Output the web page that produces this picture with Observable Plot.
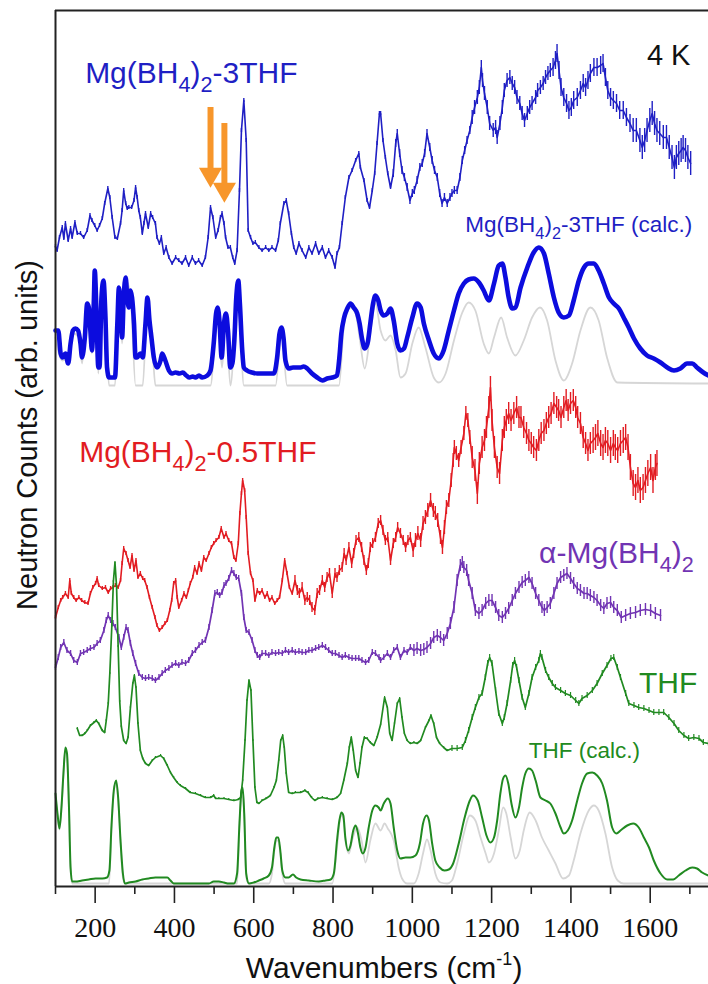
<!DOCTYPE html>
<html><head><meta charset="utf-8">
<script src="https://cdn.jsdelivr.net/npm/d3@7"></script>
<script src="https://cdn.jsdelivr.net/npm/@observablehq/plot@0.6"></script>
<style>
html,body{margin:0;padding:0;background:#fff}
#chart svg{display:block;overflow:visible}
</style></head><body><div id="chart"></div>
<script>
// ---- data (wavenumber cm^-1, neutron counts in arbitrary units, spectra already offset) ----
const mg3thfExp = [[100,640],[104,636],[110,649],[117,659],[121,648],[125,663],[132,646],[138,658],[142,649],[149,664],[155,653],[163,653],[171,649],[180,656],[187,671],[192,666],[199,661],[205,656],[211,661],[218,668],[224,683],[232,698],[237,689],[243,669],[250,649],[256,648],[264,663],[268,676],[272,696],[277,683],[281,678],[285,679],[292,679],[298,686],[302,699],[306,689],[310,676],[314,669],[319,653],[323,663],[327,673],[334,659],[340,673],[345,669],[352,663],[356,649],[362,643],[367,649],[373,633],[379,639],[386,629],[394,623],[403,629],[411,626],[419,623],[428,629],[436,621],[445,629],[453,623],[461,626],[470,621],[478,629],[485,649],[491,679],[497,669],[504,649],[510,656],[516,669],[520,673],[525,663],[529,649],[535,639],[541,639],[547,629],[552,623],[558,636],[564,696],[569,756],[575,786],[581,746],[586,656],[592,649],[598,643],[604,644],[613,639],[621,636],[630,639],[638,636],[646,639],[655,636],[662,646],[667,663],[676,683],[682,686],[688,673],[695,653],[701,639],[707,633],[714,643],[722,636],[731,629],[739,639],[747,633],[756,643],[764,633],[773,639],[781,629],[789,636],[798,629],[805,619],[810,633],[816,639],[823,663],[831,689],[840,709],[848,716],[857,726],[865,733],[869,719],[878,706],[886,686],[892,679],[899,696],[905,713],[911,743],[917,773],[920,773],[926,746],[932,729],[938,713],[945,699],[952,713],[958,743],[962,753],[968,733],[974,716],[980,709],[987,699],[994,686],[1000,693],[1005,696],[1012,706],[1019,719],[1025,723],[1031,733],[1037,753],[1044,739],[1050,726],[1056,716],[1063,709],[1069,693],[1075,683],[1081,689],[1088,683],[1095,689],[1100,693],[1106,696],[1113,696],[1120,709],[1126,726],[1132,736],[1138,746],[1145,756],[1151,769],[1157,779],[1164,789],[1169,799],[1174,819],[1177,806],[1182,793],[1189,779],[1195,763],[1204,756],[1210,759],[1214,749],[1221,763],[1227,779],[1232,796],[1239,806],[1246,809],[1252,803],[1258,799],[1264,789],[1271,783],[1277,773],[1283,766],[1290,773],[1296,779],[1302,783],[1311,789],[1316,796],[1323,799],[1330,803],[1336,809],[1342,813],[1348,816],[1355,819],[1361,826],[1365,833],[1370,816],[1375,799],[1382,789],[1389,783],[1395,776],[1401,779],[1407,786],[1416,789],[1424,796],[1431,803],[1437,799],[1443,806],[1449,813],[1458,819],[1466,819],[1475,821],[1481,823],[1487,809],[1493,796],[1500,789],[1507,786],[1515,783],[1523,776],[1532,776],[1540,769],[1549,763],[1557,756],[1565,756],[1574,746],[1580,739],[1586,746],[1592,756],[1599,766],[1605,773],[1611,763],[1617,756],[1624,753],[1633,749],[1641,749],[1648,739],[1655,729],[1661,719],[1666,729],[1672,733],[1678,736],[1683,739],[1689,736],[1695,729],[1702,723]];
const mg3thfErr = [[100,950,2],[950,1150,4],[1150,1350,7],[1350,1550,9],[1550,1750,12]];

const mg3thfCalc = [[100,556],[107,556],[113,533],[118,529],[125,533],[132,523],[138,543],[144,556],[150,558],[157,556],[163,543],[167,529],[174,549],[180,583],[184,579],[188,556],[192,536],[197,589],[199,616],[203,579],[208,519],[211,519],[216,589],[221,606],[226,569],[230,519],[235,509],[241,509],[250,509],[256,563],[260,599],[264,579],[268,549],[272,589],[277,609],[281,589],[285,579],[289,596],[293,589],[298,563],[302,529],[306,529],[314,533],[320,529],[327,563],[332,589],[337,566],[342,549],[348,529],[356,519],[365,526],[369,533],[377,526],[386,516],[394,513],[403,514],[413,513],[421,514],[430,511],[438,509],[446,510],[453,509],[462,511],[470,509],[483,511],[491,516],[499,543],[505,573],[509,579],[514,563],[519,529],[525,563],[530,573],[535,556],[541,519],[546,523],[551,546],[556,589],[561,606],[565,583],[571,536],[575,519],[583,516],[596,514],[609,513],[621,513],[638,513],[651,513],[659,529],[665,553],[670,559],[675,549],[680,526],[688,518],[699,519],[710,519],[718,519],[726,520],[735,518],[747,513],[760,509],[773,506],[785,508],[798,509],[810,511],[816,529],[821,553],[828,569],[836,578],[844,583],[852,579],[861,573],[867,563],[873,548],[880,538],[887,543],[894,563],[901,583],[907,591],[914,586],[920,576],[928,571],[937,573],[945,578],[953,566],[962,543],[970,536],[979,538],[987,549],[1000,569],[1012,583],[1021,579],[1029,563],[1042,546],[1054,533],[1067,528],[1079,536],[1092,556],[1105,576],[1117,593],[1130,603],[1142,607],[1155,608],[1168,604],[1180,596],[1193,586],[1206,603],[1218,621],[1227,623],[1235,609],[1243,589],[1252,578],[1260,579],[1273,599],[1290,619],[1306,634],[1319,639],[1332,633],[1344,613],[1357,589],[1369,574],[1382,569],[1395,571],[1407,586],[1420,606],[1433,619],[1445,623],[1458,623],[1470,616],[1483,603],[1496,589],[1508,583],[1521,578],[1533,569],[1546,559],[1559,548],[1575,538],[1592,531],[1609,528],[1626,524],[1643,519],[1660,516],[1676,518],[1693,523],[1706,523],[1718,519],[1734,514],[1747,511]];

const mg3thfCalcFund = [[100,549],[117,526],[138,539],[146,553],[159,549],[167,523],[180,579],[188,549],[192,533],[199,613],[208,513],[216,586],[221,603],[228,556],[235,501],[250,501],[260,596],[268,543],[277,606],[289,593],[302,501],[320,501],[332,586],[344,543],[352,501],[491,501],[508,576],[520,519],[530,569],[541,501],[561,603],[575,501],[655,501],[670,556],[684,501],[815,501],[828,563],[844,579],[857,573],[867,549],[880,518],[894,553],[907,583],[920,556],[932,546],[945,551],[958,536],[970,509],[983,513],[1000,543],[1016,559],[1033,539],[1054,509],[1067,504],[1084,513],[1105,546],[1126,574],[1142,584],[1159,576],[1180,543],[1193,533],[1206,549],[1224,569],[1239,549],[1260,531],[1281,546],[1302,569],[1322,579],[1340,566],[1361,526],[1382,506],[1403,523],[1424,556],[1449,579],[1470,566],[1491,529],[1517,504],[1747,503]];

const mg05thfExp = [[100,269],[107,279],[113,286],[118,289],[125,293],[132,289],[136,306],[140,293],[146,289],[152,286],[159,289],[166,286],[174,284],[182,283],[188,293],[194,299],[201,303],[205,308],[209,301],[218,298],[226,299],[233,294],[239,298],[245,299],[251,301],[258,299],[264,306],[268,323],[272,338],[278,333],[283,326],[288,319],[293,331],[298,316],[303,326],[308,309],[314,313],[320,308],[325,306],[331,299],[337,289],[344,279],[351,269],[356,261],[362,256],[369,259],[376,263],[382,266],[388,276],[393,286],[398,303],[403,306],[407,289],[411,279],[418,286],[424,293],[430,289],[435,296],[440,303],[446,309],[451,319],[457,313],[462,323],[468,316],[474,329],[480,326],[487,333],[493,339],[499,343],[505,346],[512,349],[518,358],[525,349],[530,353],[537,346],[544,343],[550,329],[555,326],[561,343],[565,373],[569,393],[572,406],[577,396],[581,369],[586,333],[592,313],[598,306],[603,286],[609,296],[615,293],[621,296],[628,289],[634,293],[640,286],[646,289],[653,283],[659,286],[665,289],[672,306],[678,326],[684,313],[690,299],[697,293],[704,306],[710,296],[715,293],[722,299],[729,286],[735,289],[741,286],[747,279],[754,276],[760,293],[766,296],[773,306],[779,299],[785,309],[791,313],[798,293],[805,313],[810,309],[816,316],[823,319],[828,333],[833,326],[840,339],[847,323],[852,333],[858,346],[865,349],[872,339],[878,326],[884,316],[889,323],[894,339],[900,343],[907,349],[914,363],[920,366],[926,356],[932,346],[938,349],[945,326],[952,343],[958,349],[963,359],[970,353],[977,346],[983,339],[989,346],[995,349],[1002,336],[1008,346],[1014,353],[1021,346],[1027,363],[1033,369],[1039,376],[1046,386],[1053,376],[1058,373],[1064,366],[1071,349],[1076,339],[1081,359],[1086,379],[1092,386],[1098,406],[1103,426],[1106,439],[1111,433],[1117,426],[1123,439],[1130,453],[1135,473],[1140,466],[1145,449],[1151,429],[1158,416],[1164,393],[1169,423],[1176,439],[1182,446],[1187,459],[1193,479],[1197,499],[1201,466],[1207,439],[1214,419],[1220,413],[1227,446],[1232,459],[1237,466],[1243,473],[1249,466],[1256,473],[1263,479],[1269,469],[1274,469],[1281,459],[1288,453],[1294,446],[1300,443],[1306,439],[1313,436],[1319,446],[1325,453],[1332,456],[1338,463],[1344,469],[1350,473],[1357,483],[1364,479],[1369,476],[1375,469],[1382,479],[1388,486],[1393,476],[1399,483],[1406,486],[1412,479],[1417,469],[1424,463],[1431,449],[1437,443],[1443,436],[1449,443],[1456,446],[1462,449],[1468,453],[1475,443],[1481,439],[1487,446],[1493,443],[1500,436],[1507,443],[1512,439],[1518,436],[1525,443],[1532,446],[1538,449],[1544,439],[1550,419],[1557,403],[1563,399],[1569,406],[1575,396],[1582,399],[1588,406],[1594,413],[1601,419],[1607,406],[1613,419],[1617,423]];
const mg05thfErr = [[100,700,2],[700,1000,5],[1000,1150,7],[1150,1450,11],[1450,1750,13]];

const alphaMgExp = [[100,219],[107,229],[113,239],[121,244],[129,236],[138,233],[146,226],[155,224],[163,233],[171,234],[180,236],[188,238],[197,239],[205,243],[213,246],[222,256],[228,266],[233,271],[239,266],[245,263],[251,259],[260,249],[266,239],[272,249],[278,259],[283,256],[289,243],[295,233],[302,223],[310,213],[319,209],[327,208],[335,209],[344,208],[352,206],[361,209],[369,213],[377,216],[386,218],[394,221],[403,223],[411,221],[419,224],[428,223],[436,226],[445,233],[453,236],[462,241],[470,244],[478,246],[487,259],[495,276],[502,293],[508,294],[514,291],[520,294],[525,301],[530,303],[537,308],[544,316],[550,313],[556,309],[562,308],[569,293],[575,269],[581,256],[588,254],[596,246],[603,236],[609,231],[615,229],[621,233],[630,233],[638,231],[646,234],[655,233],[663,234],[672,233],[680,236],[688,234],[697,236],[705,234],[714,235],[722,234],[731,234],[739,236],[747,236],[756,238],[764,239],[773,241],[781,239],[789,236],[798,233],[806,233],[815,231],[823,229],[831,231],[840,229],[848,228],[857,228],[865,228],[873,226],[882,224],[890,226],[899,234],[907,233],[916,229],[920,226],[928,229],[937,233],[945,229],[953,236],[962,239],[970,229],[979,236],[987,234],[995,239],[1004,236],[1012,238],[1021,236],[1029,237],[1037,239],[1046,243],[1054,249],[1063,251],[1071,249],[1079,246],[1088,253],[1096,263],[1105,279],[1113,306],[1121,321],[1126,324],[1130,319],[1137,316],[1142,306],[1151,293],[1159,276],[1168,273],[1176,276],[1185,283],[1193,286],[1201,286],[1210,279],[1218,271],[1227,269],[1235,273],[1243,278],[1252,286],[1260,293],[1269,299],[1277,304],[1285,306],[1294,309],[1302,303],[1311,293],[1319,286],[1327,279],[1333,276],[1340,279],[1348,283],[1357,293],[1365,303],[1374,309],[1382,311],[1390,313],[1399,308],[1407,303],[1416,298],[1424,296],[1433,293],[1441,293],[1449,291],[1458,289],[1466,286],[1475,281],[1483,278],[1491,283],[1500,284],[1508,279],[1517,276],[1527,269],[1538,271],[1550,273],[1563,274],[1575,276],[1588,277],[1601,276],[1613,273],[1626,271]];
const alphaMgErr = [[100,1000,3],[1000,1750,6]];

const thfExp = [[155,158],[161,151],[167,151],[174,153],[180,156],[188,161],[197,164],[203,166],[209,163],[218,156],[224,154],[228,166],[233,183],[237,213],[242,260],[246,305],[250,324],[254,300],[258,240],[262,185],[266,160],[272,146],[278,143],[283,149],[289,179],[295,203],[299,211],[303,199],[308,163],[314,136],[320,128],[327,123],[335,121],[344,126],[352,129],[365,131],[373,128],[382,121],[390,114],[398,109],[407,104],[415,101],[428,98],[440,94],[453,93],[466,91],[478,89],[491,89],[499,91],[504,88],[512,88],[525,88],[537,87],[550,86],[561,87],[567,89],[572,106],[578,146],[583,186],[588,206],[593,196],[598,146],[603,99],[608,84],[613,83],[621,86],[631,88],[642,91],[651,99],[657,106],[663,126],[668,146],[673,151],[677,139],[682,113],[688,94],[697,93],[705,94],[718,94],[729,96],[737,94],[746,89],[754,86],[762,88],[773,89],[785,88],[798,87],[810,89],[819,93],[827,106],[836,123],[841,139],[846,149],[851,136],[857,116],[863,109],[868,123],[873,139],[879,149],[886,148],[894,144],[903,141],[911,149],[920,162],[930,189],[937,179],[943,153],[949,146],[955,163],[962,183],[968,188],[974,169],[980,153],[987,146],[995,143],[1004,144],[1012,143],[1021,146],[1033,159],[1042,166],[1047,171],[1054,163],[1061,149],[1069,143],[1079,139],[1088,136],[1100,138],[1113,138],[1126,139],[1134,146],[1142,156],[1151,169],[1159,179],[1168,189],[1176,193],[1184,209],[1190,223],[1195,229],[1201,223],[1210,196],[1218,173],[1227,163],[1232,169],[1239,183],[1248,206],[1253,221],[1258,226],[1263,219],[1269,206],[1277,189],[1285,179],[1294,193],[1302,209],[1311,219],[1319,226],[1323,233],[1327,229],[1336,216],[1344,209],[1353,203],[1361,199],[1374,196],[1386,193],[1399,191],[1412,186],[1420,183],[1428,188],[1441,191],[1454,196],[1466,203],[1479,213],[1491,221],[1501,228],[1508,229],[1517,219],[1525,209],[1538,193],[1546,183],[1559,181],[1571,179],[1584,178],[1597,176],[1609,174],[1622,174],[1634,174],[1647,169],[1660,163],[1672,156],[1685,151],[1697,148],[1710,149],[1723,148],[1734,144],[1747,143]];
const thfErr = [[100,1100,1],[1100,1750,3]];

const thfCalc = [[100,93],[105,73],[110,58],[115,79],[120,113],[125,139],[129,133],[134,79],[138,19],[142,5],[150,5],[167,6],[184,7],[201,8],[218,8],[230,9],[236,16],[241,59],[247,96],[253,106],[258,89],[264,46],[270,13],[275,3],[285,4],[302,5],[319,7],[335,8],[352,9],[369,9],[382,9],[390,6],[398,3],[411,3],[436,3],[462,3],[487,3],[499,5],[512,5],[525,4],[537,3],[550,3],[558,13],[564,63],[569,96],[572,99],[576,73],[581,13],[588,3],[600,4],[613,6],[625,8],[638,11],[646,19],[652,39],[657,49],[662,49],[667,36],[672,16],[680,9],[688,9],[699,12],[707,9],[718,7],[739,6],[764,5],[781,6],[794,7],[802,13],[810,46],[816,66],[821,74],[826,71],[831,49],[838,36],[844,41],[851,56],[857,61],[863,53],[869,39],[875,33],[882,39],[890,59],[899,76],[907,81],[915,79],[920,76],[928,83],[938,88],[945,83],[953,59],[962,36],[970,28],[983,29],[995,29],[1008,31],[1019,43],[1027,63],[1036,71],[1042,66],[1050,43],[1058,26],[1069,19],[1081,16],[1092,17],[1103,23],[1117,43],[1132,69],[1145,86],[1153,91],[1165,86],[1176,69],[1187,51],[1197,44],[1206,49],[1214,66],[1222,93],[1229,108],[1235,111],[1242,103],[1250,83],[1260,69],[1269,79],[1277,99],[1285,113],[1294,118],[1302,116],[1311,106],[1323,89],[1336,86],[1348,83],[1361,73],[1374,59],[1382,53],[1392,56],[1403,66],[1416,86],[1428,103],[1441,113],[1454,114],[1466,111],[1479,103],[1491,86],[1504,59],[1515,53],[1525,56],[1542,61],[1557,63],[1571,59],[1584,49],[1597,39],[1609,26],[1626,13],[1643,7],[1658,7],[1672,11],[1689,16],[1706,19],[1718,18],[1731,14],[1747,11]];

const thfCalcFund = [[100,89],[105,71],[110,57],[115,78],[120,111],[125,138],[129,131],[134,78],[138,16],[142,3],[235,3],[241,56],[247,94],[253,104],[258,88],[264,44],[270,9],[275,3],[558,3],[564,61],[569,94],[572,98],[576,71],[581,9],[588,3],[638,3],[646,13],[652,36],[657,46],[662,46],[667,33],[672,13],[680,3],[798,3],[810,39],[816,63],[821,71],[826,68],[831,46],[840,33],[848,46],[861,59],[872,46],[882,24],[894,46],[907,63],[920,56],[930,63],[938,58],[946,53],[953,46],[966,18],[974,8],[987,3],[1004,3],[1016,13],[1027,33],[1037,47],[1046,36],[1058,13],[1071,4],[1088,3],[1100,6],[1113,23],[1130,53],[1145,71],[1159,66],[1172,49],[1185,33],[1193,24],[1206,33],[1218,56],[1229,79],[1237,73],[1248,49],[1260,28],[1271,36],[1281,56],[1296,74],[1311,66],[1327,49],[1344,36],[1361,23],[1380,8],[1395,11],[1407,26],[1424,53],[1445,76],[1458,81],[1470,76],[1487,53],[1504,19],[1518,6],[1533,3],[1747,3]];

const majorTicks = [200,400,600,800,1000,1200,1400,1600];
const minorTicks = [100,300,500,700,900,1100,1300,1500,1700];
const markedPeaks = [491, 526]; // orange arrows

// ---- rendering ----
const BLUE = "#1f1fc4", BLUE_CALC = "#0c0cde", RED = "#e21c22", PURPLE = "#7134b3",
      GREEN = "#218a21", GRAY = "#d6d6d6", ORANGE = "#f7962b";
const SANS = "Liberation Sans";
const SERIF = "Liberation Serif";

const rows = (pts, errs = []) => pts.map(([wn, v]) => {
  const r = errs.find(([a, b]) => wn >= a && wn < b);
  return {wn, v, e: r ? r[2] : 0};
});
const line = (pts, stroke, strokeWidth, curve = "linear") =>
  Plot.line(rows(pts), {x: "wn", y: "v", stroke, strokeWidth, curve, strokeLinejoin: "round", strokeLinecap: "round"});
const errBars = (pts, errs, stroke, strokeWidth) =>
  Plot.ruleX(rows(pts, errs).filter(d => d.e > 0), {x: "wn", y1: d => d.v - d.e, y2: d => d.v + d.e, stroke, strokeWidth});

const arrows = [
  {wn: markedPeaks[0], from: 767, to: 699},
  {wn: markedPeaks[1], from: 751, to: 684}
];

const plot = Plot.plot({
  width: 708, height: 984,
  marginTop: 10, marginRight: 0, marginBottom: 98, marginLeft: 55,
  x: {domain: [100, 1747], label: null},
  y: {domain: [0, 876], axis: null, label: null},
  style: {fontFamily: SANS, fontSize: "28px", background: "white", color: "#111"},
  marks: [
    line(mg3thfCalcFund, GRAY, 1.8, "monotone-x"),
    line(thfCalcFund, GRAY, 1.8, "monotone-x"),
    line(mg3thfCalc, BLUE_CALC, 4.6, "monotone-x"),
    errBars(mg3thfExp, mg3thfErr, BLUE, 1.4),
    line(mg3thfExp, BLUE, 1.6),
    errBars(alphaMgExp, alphaMgErr, PURPLE, 1.4),
    line(alphaMgExp, PURPLE, 1.7),
    errBars(mg05thfExp, mg05thfErr, RED, 1.4),
    line(mg05thfExp, RED, 1.6),
    line(thfCalc, GREEN, 2, "monotone-x"),
    errBars(thfExp, thfErr, GREEN, 1.2),
    line(thfExp, GREEN, 1.7),
    Plot.ruleX(arrows, {x: "wn", y1: "from", y2: "to", dy: -12, stroke: ORANGE, strokeWidth: 6}),
    Plot.dot(arrows, {x: "wn", y: "to", symbol: "triangle", r: 8.6, rotate: 180, fill: ORANGE, stroke: "none", dy: -13}),
    Plot.ruleX([100], {stroke: "#222", strokeWidth: 2}),
    Plot.ruleY([876], {stroke: "#222", strokeWidth: 2}),
    Plot.ruleY([0], {stroke: "#222", strokeWidth: 2}),
    Plot.axisX(majorTicks, {tickSize: 17, strokeWidth: 1.6, stroke: "#222", label: null, tickFormat: () => ""}),
    Plot.axisX(minorTicks, {tickSize: 8, strokeWidth: 1.6, stroke: "#222", label: null, tickFormat: () => ""}),
    Plot.text(majorTicks, {x: d => d, text: d => String(d), frameAnchor: "bottom", lineAnchor: "top", dy: 31,
      fontFamily: SERIF, fontSize: 28, fill: "#111"})
  ]
});
document.getElementById("chart").append(plot);

const svg = d3.select(plot);

// ---- text annotations with sub/superscripts ----
const sx = plot.scale("x"), sy = plot.scale("y");
function rich(parts, x, y, {size, fill = "#111", anchor = "start", rotate = null}) {
  const t = svg.append("text").attr("x", x).attr("y", y)
    .attr("font-family", SANS).attr("font-size", size).attr("fill", fill)
    .attr("text-anchor", anchor);
  if (rotate !== null) t.attr("transform", `rotate(${rotate},${x},${y})`);
  let off = 0;
  for (const [s, kind = 0] of parts) {
    const target = kind === 1 ? 0.3 * size : kind === -1 ? -0.42 * size : 0;
    const sp = t.append("tspan").text(s).attr("dy", target - off);
    if (kind === 1) sp.attr("font-size", 0.72 * size);
    if (kind === -1) sp.attr("font-size", 0.6 * size);
    off = target;
  }
  return t;
}
const at = (wn, v) => [sx.apply(wn), sy.apply(v)];
const notes = [
  {parts: [["Mg(BH"], ["4", 1], [")"], ["2", 1], ["-3THF"]], pos: [176, 803], size: 30, fill: BLUE},
  {parts: [["4 K"]], pos: [1593, 821], size: 29, fill: "#111"},
  {parts: [["Mg(BH"], ["4", 1], [")"], ["2", 1], ["-3THF (calc.)"]], pos: [1707, 654], size: 22.5, fill: BLUE, anchor: "end"},
  {parts: [["Mg(BH"], ["4", 1], [")"], ["2", 1], ["-0.5THF"]], pos: [161, 424], size: 30, fill: RED},
  {parts: [["α-Mg(BH"], ["4", 1], [")"], ["2", 1]], pos: [1321, 323], size: 30, fill: PURPLE},
  {parts: [["THF"]], pos: [1573, 193], size: 30, fill: GREEN},
  {parts: [["THF (calc.)"]], pos: [1295, 128], size: 22.5, fill: GREEN}
];
for (const n of notes) {
  const [x, y] = at(...n.pos);
  rich(n.parts, x, y, {size: n.size, fill: n.fill, anchor: n.anchor || "start"});
}
// axis titles
rich([["Wavenumbers (cm"], ["-1", -1], [")"]], sx.apply(930), 978, {size: 30, anchor: "middle"});
rich([["Neutron Counts (arb. units)"]], 37, 435, {size: 29, anchor: "middle", rotate: -90});
</script>
</body></html>
